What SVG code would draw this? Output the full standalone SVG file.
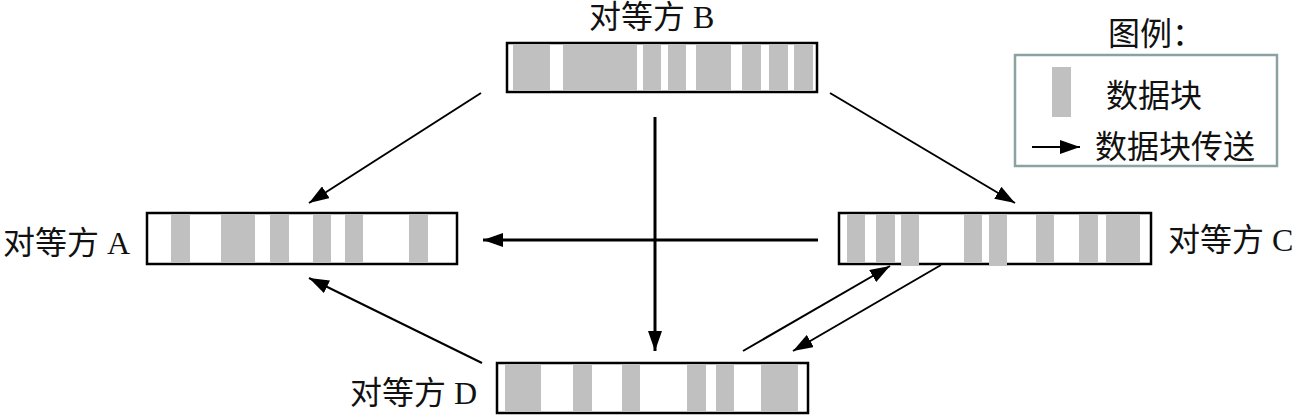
<svg xmlns="http://www.w3.org/2000/svg" width="1296" height="415" viewBox="0 0 1296 415">
<style>
.t{font-family:"Liberation Serif","Noto Sans CJK SC",serif;font-size:32px;fill:#111}
.box{fill:#fff;stroke:#000;stroke-width:2.5}
.blk{fill:#c0c0c0}
.c{stroke:#000;stroke-width:2;fill:none}
.ct{stroke:#000;stroke-width:3;fill:none}
</style>
<defs>
<marker id="ah" markerUnits="userSpaceOnUse" markerWidth="22" markerHeight="14" refX="20" refY="7" orient="auto">
<path d="M0,0 L20,7 L0,14 z" fill="#000"/>
</marker>
</defs>
<rect width="1296" height="415" fill="#fff"/>
<g id="peerB">
<rect class="box" x="507" y="43" width="310" height="49"/>
<rect class="blk" x="513" y="44" width="37" height="47"/>
<rect class="blk" x="563" y="44" width="74" height="47"/>
<rect class="blk" x="643" y="44" width="18" height="47"/>
<rect class="blk" x="668" y="44" width="18" height="47"/>
<rect class="blk" x="696" y="44" width="35" height="47"/>
<rect class="blk" x="742" y="44" width="19" height="47"/>
<rect class="blk" x="769" y="44" width="19" height="47"/>
<rect class="blk" x="794" y="44" width="19" height="47"/>
<text class="t" x="589" y="28">对等方 B</text>
</g>
<g id="peerA">
<rect class="box" x="147" y="213" width="310" height="51"/>
<rect class="blk" x="171" y="214" width="19" height="49"/>
<rect class="blk" x="221" y="214" width="34" height="49"/>
<rect class="blk" x="270" y="214" width="19" height="49"/>
<rect class="blk" x="313" y="214" width="18" height="49"/>
<rect class="blk" x="345" y="214" width="18" height="49"/>
<rect class="blk" x="409" y="214" width="19" height="49"/>
<text class="t" x="3" y="254">对等方 A</text>
</g>
<g id="peerC">
<rect class="box" x="839" y="213" width="312" height="51"/>
<rect class="blk" x="847" y="214" width="18" height="49"/>
<rect class="blk" x="876" y="214" width="19" height="49"/>
<rect class="blk" x="901" y="214" width="18" height="52"/>
<rect class="blk" x="964" y="214" width="18" height="49"/>
<rect class="blk" x="989" y="214" width="18" height="52"/>
<rect class="blk" x="1036" y="214" width="18" height="49"/>
<rect class="blk" x="1079" y="214" width="19" height="49"/>
<rect class="blk" x="1106" y="214" width="34" height="49"/>
<text class="t" x="1168" y="251">对等方 C</text>
</g>
<g id="peerD">
<rect class="box" x="497" y="363" width="311" height="50"/>
<rect class="blk" x="505" y="364" width="36" height="48"/>
<rect class="blk" x="573" y="364" width="19" height="48"/>
<rect class="blk" x="622" y="364" width="18" height="48"/>
<rect class="blk" x="687" y="364" width="19" height="48"/>
<rect class="blk" x="716" y="364" width="18" height="48"/>
<rect class="blk" x="761" y="364" width="37" height="48"/>
<text class="t" x="350" y="404">对等方 D</text>
</g>
<g id="legend">
<text class="t" x="1108" y="45">图例：</text>
<rect x="1015" y="55" width="262" height="111" fill="#fff" stroke="#8aa2a2" stroke-width="2.5"/>
<rect class="blk" x="1052" y="67" width="19" height="50"/>
<text class="t" x="1106" y="107">数据块</text>
<line class="c" x1="1032" y1="147" x2="1080" y2="147" marker-end="url(#ah)"/>
<text class="t" x="1095" y="158">数据块传送</text>
</g>
<g id="connectors">
<line class="c" x1="481" y1="93" x2="309" y2="203" marker-end="url(#ah)"/>
<line class="c" x1="830" y1="93" x2="1015" y2="203" marker-end="url(#ah)"/>
<line class="ct" x1="655" y1="117" x2="655" y2="351" marker-end="url(#ah)"/>
<line class="ct" x1="818" y1="240" x2="483" y2="240" marker-end="url(#ah)"/>
<line class="c" x1="482" y1="363" x2="309" y2="278" marker-end="url(#ah)"/>
<line class="c" x1="743" y1="351" x2="890" y2="266" marker-end="url(#ah)"/>
<line class="c" x1="941" y1="265" x2="793" y2="351" marker-end="url(#ah)"/>
</g>
</svg>
